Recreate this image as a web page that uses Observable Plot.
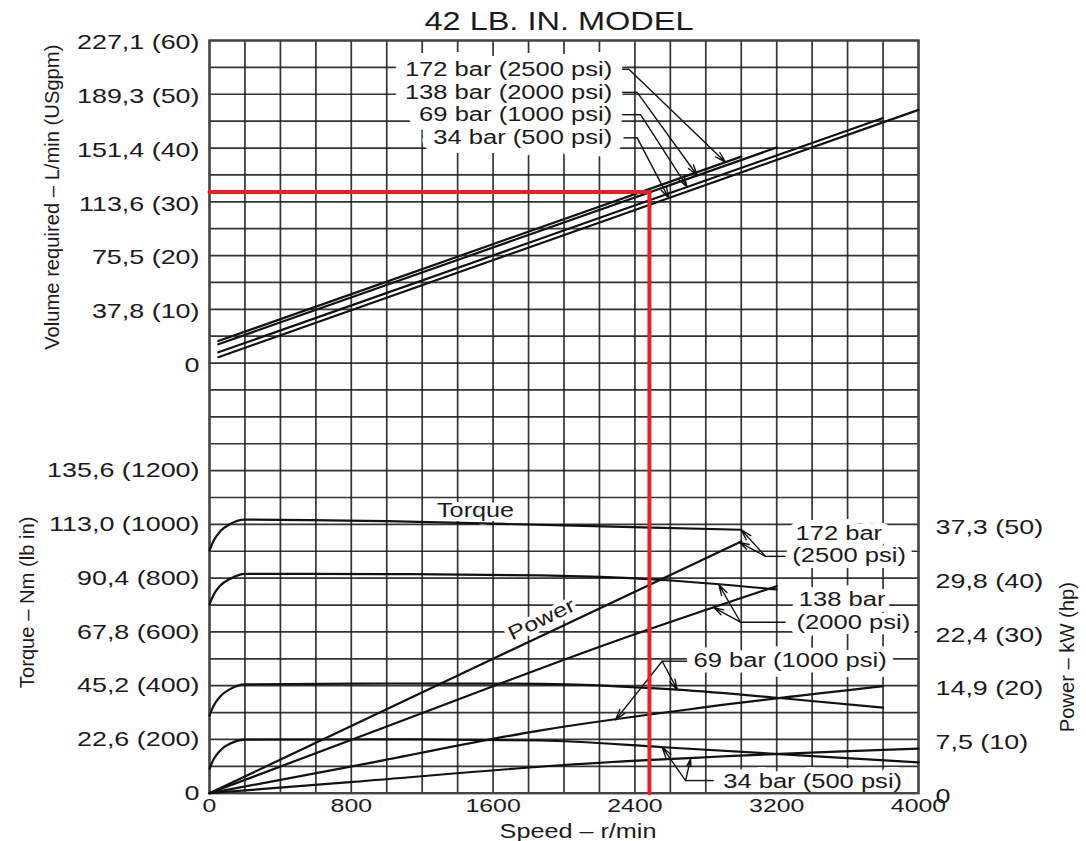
<!DOCTYPE html>
<html>
<head>
<meta charset="utf-8">
<script src="https://cdn.jsdelivr.net/npm/d3@7"></script>
<script src="https://cdn.jsdelivr.net/npm/@observablehq/plot@0.6"></script>
<style>
  html, body { margin: 0; padding: 0; background: #fff; }
  #chart svg { display: block; }
</style>
</head>
<body>
<div id="chart"></div>
<script>
// ---------------- data ----------------
const titleText = "42 LB. IN. MODEL";
const speedTicks = [0, 800, 1600, 2400, 3200, 4000];
const flowTicksGpm = [0, 10, 20, 30, 40, 50, 60];
const flowTickLabels = ["0", "37,8 (10)", "75,5 (20)", "113,6 (30)", "151,4 (40)", "189,3 (50)", "227,1 (60)"];
const torqueTicksLbIn = [0, 200, 400, 600, 800, 1000, 1200];
const torqueTickLabels = ["0", "22,6 (200)", "45,2 (400)", "67,8 (600)", "90,4 (800)", "113,0 (1000)", "135,6 (1200)"];
const powerTicksHp = [0, 10, 20, 30, 40, 50];
const powerTickLabels = ["0", "7,5 (10)", "14,9 (20)", "22,4 (30)", "29,8 (40)", "37,3 (50)"];
const pressureLabels = ["172 bar (2500 psi)", "138 bar (2000 psi)", "69 bar (1000 psi)", "34 bar (500 psi)"];

// Volume required: [speed r/min, USgpm]
const flow172 = [[50, 4.1], [3000, 38.4]];
const flow138 = [[50, 3.5], [3200, 40.1]];
const flow69  = [[50, 2.0], [3800, 45.6]];
const flow34  = [[50, 1.1], [4000, 47.1]];

// Torque: [speed r/min, lb in]
const torque172 = [[0, 903], [24, 940], [62, 975], [118, 1002], [200, 1018], [1000, 1012], [2000, 996], [3000, 980]];
const torque138 = [[0, 702], [24, 739], [62, 773], [118, 798], [200, 816], [1000, 815], [1870, 810], [2530, 794], [3200, 758]];
const torque69  = [[0, 289], [24, 326], [62, 361], [118, 388], [200, 405], [1000, 408], [1870, 407], [2640, 385], [3200, 355], [3800, 318]];
const torque34  = [[0, 91], [24, 127], [62, 160], [118, 185], [200, 199], [1000, 200], [1870, 196], [2560, 171], [4000, 115]];

// Power: [speed r/min, hp]
const power172 = [[0, 0], [1600, 25], [3000, 46.8]];
const power138 = [[0, 0], [1000, 12.4], [2300, 28.4], [3200, 38.5]];
const power69  = [[0, 0], [900, 5.6], [1870, 11.7], [2800, 16], [3800, 19.9]];
const power34  = [[0, 0], [810, 2.1], [1980, 5.2], [4000, 8.3]];

// Design point (red guide)
const designSpeed = 2482;
const designFlowGpm = 31.8;

// Annotation anchors (speed r/min; rows of the shared grid: 1 row = 5 USgpm = 100 lb in = 5 hp)
const flowLabelSpeed = 2272;
const flowLabelRow = [26.93, 26.07, 25.24, 24.38];
const flowLeaderStart = [2328, 2328, 2328, 2336];
const flowLeaderBend = [2366, 2413, 2432, 2413];
const flowArrowSpeed = [2911, 2752, 2695, 2591];

const lowLabelText = ["172 bar", "(2500 psi)", "138 bar", "(2000 psi)", "69 bar (1000 psi)", "34 bar (500 psi)"];
const lowLabelSpeed = [3306, 3288, 3325, 3312, 2731, 2898];
const lowLabelRow = [9.66, 8.82, 7.21, 6.33, 4.91, 0.41];
const lowLeaderStart = [3250, 3250, 2695, 2845];
const lowLeaderBend = [3137, 2996, 2554, 2686];
const lowLeaderRow = [8.81, 6.36, 4.91, 0.47];
const torqueArrowSpeed = [3000, 2874, 2639, 2554];
const powerArrowSpeed = [2990, 2845, 2291, 2714];

// ---------------- helpers ----------------
const Y_FLOW = g => 16 + g / 5;      // USgpm -> grid row
const Y_TORQUE = t => t / 100;       // lb in -> grid row
const Y_POWER = hp => hp / 5;        // hp -> grid row
function interp(pts, x) {
  if (x <= pts[0][0]) return pts[0][1];
  for (let i = 1; i < pts.length; i++) {
    if (x <= pts[i][0]) {
      const [x0, y0] = pts[i - 1], [x1, y1] = pts[i];
      return y0 + (y1 - y0) * (x - x0) / (x1 - x0);
    }
  }
  return pts[pts.length - 1][1];
}

const series = [
  {key: "172", flow: flow172, torque: torque172, power: power172},
  {key: "138", flow: flow138, torque: torque138, power: power138},
  {key: "69",  flow: flow69,  torque: torque69,  power: power69},
  {key: "34",  flow: flow34,  torque: torque34,  power: power34}
];
const flowRows = series.flatMap(s => s.flow.map(([x, g]) => ({key: s.key, x, y: Y_FLOW(g)})));
const torqueRows = series.flatMap(s => s.torque.map(([x, t]) => ({key: s.key, x, y: Y_TORQUE(t)})));
const powerRows = series.flatMap(s => s.power.map(([x, p]) => ({key: s.key, x, y: Y_POWER(p)})));

const flowTickMap = new Map(flowTicksGpm.map((g, i) => [Y_FLOW(g), flowTickLabels[i]]));
const torqueTickMap = new Map(torqueTicksLbIn.map((t, i) => [Y_TORQUE(t), torqueTickLabels[i]]));
const powerTickMap = new Map(powerTicksHp.map((p, i) => [Y_POWER(p), powerTickLabels[i]]));

const flowLabelRows = pressureLabels.map((text, i) => ({text, x: flowLabelSpeed, y: flowLabelRow[i]}));
const flowLeaderLinks = series.map((s, i) => ({x1: flowLeaderStart[i], x2: flowLeaderBend[i], y: flowLabelRow[i]}));
const flowArrows = series.map((s, i) => ({
  x1: flowLeaderBend[i], y1: flowLabelRow[i],
  x2: flowArrowSpeed[i], y2: Y_FLOW(interp(s.flow, flowArrowSpeed[i]))
}));

const lowLabelRows = lowLabelText.map((text, i) => ({text, x: lowLabelSpeed[i], y: lowLabelRow[i]}));
const lowLeaderLinks = series.map((s, i) => ({x1: lowLeaderStart[i], x2: lowLeaderBend[i], y: lowLeaderRow[i]}));
const lowArrows = series.flatMap((s, i) => [
  {x1: lowLeaderBend[i], y1: lowLeaderRow[i], x2: torqueArrowSpeed[i], y2: Y_TORQUE(interp(s.torque, torqueArrowSpeed[i]))},
  {x1: lowLeaderBend[i], y1: lowLeaderRow[i], x2: powerArrowSpeed[i], y2: Y_POWER(interp(s.power, powerArrowSpeed[i]))}
]);

const redPath = [[0, Y_FLOW(designFlowGpm)], [designSpeed, Y_FLOW(designFlowGpm)], [designSpeed, 0]];

const FONT = "'Liberation Sans', Arial, Helvetica, sans-serif";
const INK = "#1a1a1a";

const flowLabelOpts = {x: "x", y: "y", text: "text", textAnchor: "end", fontSize: 19.5};
const lowLabelOpts = {x: "x", y: "y", text: "text", textAnchor: "start", fontSize: 19.5};
const torqueLabelOpts = {x: [1501], y: [10.52], fontSize: 20};
const powerLabelOpts = {x: [1873], y: [6.46], rotate: -25.4, fontSize: 20};
const halo = w => ({fill: "white", stroke: "white", strokeWidth: w, strokeLinejoin: "round"});

const chart = Plot.plot({
  width: 1086,
  height: 841,
  marginLeft: 209,
  marginRight: 168,
  marginTop: 40,
  marginBottom: 48.3,
  x: {domain: [0, 4000], axis: null},
  y: {domain: [0, 28], axis: null},
  style: {fontFamily: FONT, color: INK, background: "#fff"},
  marks: [
    // grid
    Plot.ruleX(d3.range(0, 4001, 200), {stroke: "#1e1e1e", strokeWidth: 1.7, strokeOpacity: 0.9}),
    Plot.ruleY(d3.range(0, 29), {stroke: "#1e1e1e", strokeWidth: 1.7, strokeOpacity: 0.9}),

    // axes
    Plot.axisY({ticks: [...flowTickMap.keys()], anchor: "left", tickSize: 0, tickPadding: 10,
      tickFormat: d => flowTickMap.get(d), fontSize: 21, dy: 2, label: null}),
    Plot.axisY({ticks: [...torqueTickMap.keys()], anchor: "left", tickSize: 0, tickPadding: 10,
      tickFormat: d => torqueTickMap.get(d), fontSize: 21, label: null}),
    Plot.axisY({ticks: [...powerTickMap.keys()], anchor: "right", tickSize: 0, tickPadding: 17,
      tickFormat: d => powerTickMap.get(d), fontSize: 21, dy: 3, label: null}),
    Plot.axisX({ticks: speedTicks, anchor: "bottom", tickSize: 0, tickPadding: 6,
      tickFormat: d => String(d), fontSize: 18, label: null}),

    // titles
    Plot.text([titleText], {frameAnchor: "top", dx: -5, dy: -19, lineAnchor: "middle", fontSize: 25, fill: INK}),
    Plot.text(["Speed – r/min"], {frameAnchor: "bottom", dx: 14, dy: 38, lineAnchor: "middle", fontSize: 20, fill: INK}),
    Plot.text(["Volume required – L/min (USgpm)"], {frameAnchor: "left", y: [22.17], dx: -157, rotate: -90,
      textAnchor: "middle", lineAnchor: "middle", fontSize: 20.2, fill: INK}),
    Plot.text(["Torque – Nm (lb in)"], {frameAnchor: "left", y: [7.1], dx: -182, rotate: -90,
      textAnchor: "middle", lineAnchor: "middle", fontSize: 20.2, fill: INK}),
    Plot.text(["Power – kW (hp)"], {frameAnchor: "right", y: [5.06], dx: 149, rotate: -90,
      textAnchor: "middle", lineAnchor: "middle", fontSize: 20.2, fill: INK}),

    // white halos behind labels (break the grid like the printed chart)
    Plot.text(flowLabelRows, {...flowLabelOpts, ...halo(18)}),
    Plot.text(lowLabelRows, {...lowLabelOpts, ...halo(12)}),
    Plot.text(["Torque"], {...torqueLabelOpts, ...halo(8)}),
    Plot.text(["Power"], {...powerLabelOpts, ...halo(8)}),

    // labels
    Plot.text(flowLabelRows, {...flowLabelOpts, fill: INK}),
    Plot.text(lowLabelRows, {...lowLabelOpts, fill: INK}),
    Plot.text(["Torque"], {...torqueLabelOpts, fill: INK}),
    Plot.text(["Power"], {...powerLabelOpts, fill: INK}),

    Plot.frame({stroke: "#444", strokeWidth: 2.4}),

    // curves
    Plot.line(flowRows, {x: "x", y: "y", z: "key", stroke: "#111", strokeWidth: 2.2}),
    Plot.line(torqueRows, {x: "x", y: "y", z: "key", stroke: "#111", strokeWidth: 2.2, curve: "monotone-x"}),
    Plot.line(powerRows, {x: "x", y: "y", z: "key", stroke: "#111", strokeWidth: 2.2, curve: "monotone-x"}),

    // leaders
    Plot.link(flowLeaderLinks, {x1: "x1", x2: "x2", y1: "y", y2: "y", stroke: "#111", strokeWidth: 1.4}),
    Plot.arrow(flowArrows, {x1: "x1", y1: "y1", x2: "x2", y2: "y2", stroke: "#111", strokeWidth: 1.4, headLength: 12, headAngle: 32}),
    Plot.link(lowLeaderLinks, {x1: "x1", x2: "x2", y1: "y", y2: "y", stroke: "#111", strokeWidth: 1.4}),
    Plot.arrow(lowArrows, {x1: "x1", y1: "y1", x2: "x2", y2: "y2", stroke: "#111", strokeWidth: 1.4, headLength: 12, headAngle: 32}),

    // design point guide
    Plot.line(redPath, {x: d => d[0], y: d => d[1], stroke: "#e8202a", strokeWidth: 4, strokeLinejoin: "round"})
  ]
});
document.getElementById("chart").append(chart);

// Horizontal text in the reference is set wider than its height suggests; stretch glyphs to match.
const stretch = {25: 1.30, 21: 1.28, 19.5: 1.31, 18: 1.38, 20: 1.26};
chart.querySelectorAll("text").forEach(t => {
  const m = t.getCTM();
  if (m && Math.abs(m.b) > 0.9) return; // vertical axis titles keep natural width
  const fs = parseFloat(getComputedStyle(t).fontSize);
  const k = stretch[fs] || 1.27;
  const w = t.getComputedTextLength();
  if (w > 0) {
    t.setAttribute("textLength", (w * k).toFixed(1));
    t.setAttribute("lengthAdjust", "spacingAndGlyphs");
  }
});
</script>
</body>
</html>
